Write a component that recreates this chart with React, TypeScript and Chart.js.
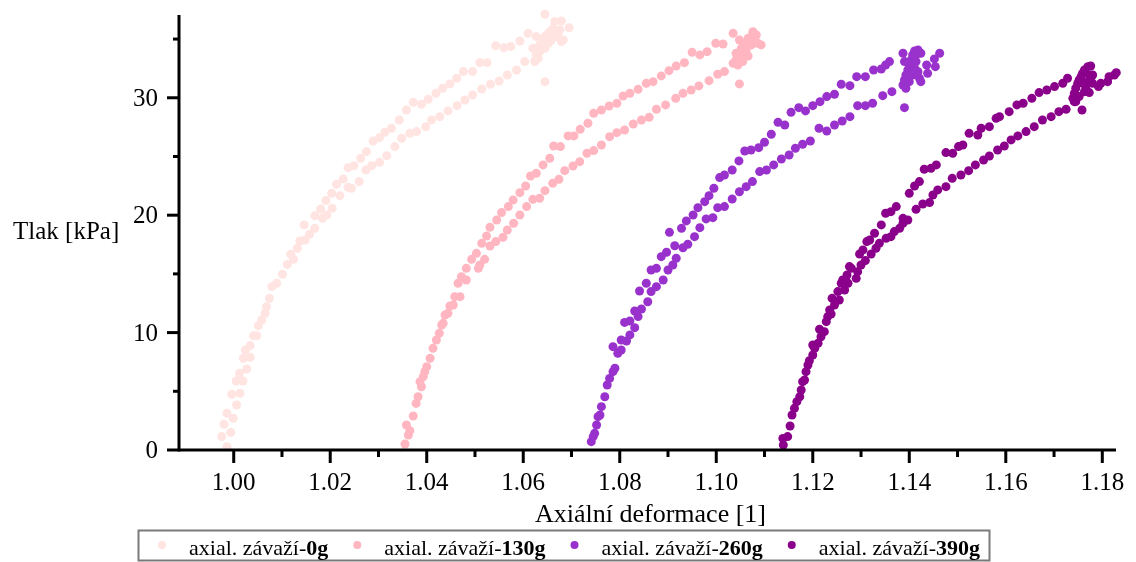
import React, { useEffect, useRef } from "react";
import { Chart, registerables } from "chart.js";

Chart.register(...registerables);

// ---------- data ----------
const seriesWeights = ["0g", "130g", "260g", "390g"];
const legendPrefix = "axial. závaží-";
const seriesColors = ["#FFE4E1", "#FFB6C1", "#9932CC", "#8B008B"];

const xTitle = "Axiální deformace [1]";
const yTitle = "Tlak [kPa]";

const xMajorTicks = [1.0, 1.02, 1.04, 1.06, 1.08, 1.1, 1.12, 1.14, 1.16, 1.18];
const xMinorTicks = [1.01, 1.03, 1.05, 1.07, 1.09, 1.11, 1.13, 1.15, 1.17];
const yMajorTicks = [0, 10, 20, 30];
const yMinorTicks = [5, 15, 25, 35];

const X_MIN = 0.98866;
const X_MAX = 1.18284;
const Y_MIN = 0;
const Y_MAX = 37.05;

const pts0g = [
  [0.9986, 0.28], [0.9975, 1.14], [0.998, 2.19], [0.9994, 1.5], [0.9986, 3.12], [0.9999, 2.7], [1.0006, 3.83], [0.9996, 4.74],
  [1.0013, 4.83], [1.0005, 5.88], [1.0019, 5.88], [1.0012, 6.53], [1.0027, 6.9], [1.002, 7.81], [1.0034, 7.89], [1.0024, 8.52],
  [1.0034, 8.89], [1.0041, 9.74], [1.0048, 9.74], [1.0051, 10.59], [1.0058, 11.07], [1.0065, 11.64], [1.0068, 12.21], [1.0074, 12.92],
  [1.0079, 13.91], [1.0089, 14.2], [1.0101, 14.97], [1.0111, 15.81], [1.0124, 16.24], [1.0118, 16.67], [1.0132, 17.18], [1.0137, 17.8],
  [1.0148, 17.89], [1.0157, 18.37], [1.0146, 19.17], [1.0168, 18.88], [1.0168, 19.96], [1.018, 20.53], [1.0184, 19.73], [1.0193, 20.02],
  [1.0191, 21.24], [1.0204, 20.58], [1.0203, 21.86], [1.0213, 22.63], [1.022, 21.66], [1.0227, 23.08], [1.0237, 22.37], [1.0244, 22.29],
  [1.026, 22.86], [1.0237, 24.05], [1.0249, 24.22], [1.0263, 24.84], [1.0274, 23.85], [1.0275, 25.41], [1.0289, 26.32], [1.0286, 24.22],
  [1.0302, 24.5], [1.0302, 26.6], [1.0313, 27.06], [1.0317, 25.07], [1.0327, 27.4], [1.0334, 25.84], [1.0343, 28.11], [1.0348, 26.55],
  [1.0358, 28.96], [1.0365, 26.97], [1.0372, 29.61], [1.0379, 27.12], [1.0389, 29.44], [1.0398, 27.54], [1.0403, 29.87], [1.041, 28.11],
  [1.0419, 30.38], [1.0427, 28.39], [1.0433, 30.81], [1.0444, 28.88], [1.0448, 31.18], [1.0463, 29.33], [1.0462, 31.66], [1.0479, 29.81],
  [1.0476, 32.23], [1.0495, 30.24], [1.0495, 32.23], [1.0514, 30.75], [1.051, 32.99], [1.0525, 32.99], [1.0532, 31.15], [1.0543, 34.44],
  [1.055, 31.43], [1.056, 34.27], [1.0567, 31.94], [1.0574, 34.36], [1.0586, 32.37], [1.0593, 34.84], [1.0603, 33.08], [1.061, 35.49],
  [1.0624, 33.13], [1.0645, 37.11], [1.0645, 31.37],
  [1.0627, 35.21], [1.0634, 34.5], [1.0641, 35.07], [1.0648, 35.35], [1.0655, 35.63], [1.0662, 35.92], [1.0665, 36.48], [1.0679, 36.54],
  [1.0672, 35.49], [1.0683, 34.92], [1.0695, 35.97], [1.0634, 33.93], [1.0627, 33.65], [1.0645, 34.21], [1.0652, 34.64], [1.0658, 34.92],
  [1.0669, 35.21], [1.0676, 35.78], [1.062, 34.21], [1.0631, 33.36], [1.0679, 34.78], [1.0624, 33.08],
];

const pts130g = [
  [1.0355, 0.51], [1.0362, 1.28], [1.0365, 1.65], [1.0358, 2.13], [1.0372, 2.9], [1.0378, 3.97], [1.0382, 4.54], [1.0389, 5.39],
  [1.0386, 5.82], [1.0393, 6.25], [1.0396, 6.67], [1.04, 7.1], [1.0407, 7.81], [1.0413, 8.66], [1.042, 9.37], [1.0426, 9.94],
  [1.0431, 10.65], [1.0434, 10.79], [1.0438, 11.5], [1.0444, 11.64], [1.0448, 12.27], [1.0455, 12.35], [1.0458, 13.06], [1.0469, 13.06],
  [1.0465, 14.2], [1.0472, 14.76], [1.0482, 14.48], [1.0482, 15.47], [1.0493, 16.24], [1.0507, 15.47], [1.0503, 16.75], [1.051, 15.76],
  [1.052, 16.24], [1.0514, 17.6], [1.0524, 18.23], [1.0531, 17.38], [1.0531, 18.97], [1.0543, 17.75], [1.0545, 19.59], [1.0558, 18.11],
  [1.0555, 20.22], [1.0567, 18.74], [1.0569, 20.73], [1.0579, 21.29], [1.058, 19.31], [1.0593, 21.92], [1.0593, 20.02], [1.0605, 22.49],
  [1.0607, 20.73], [1.0615, 23.34], [1.062, 21.35], [1.0627, 23.57], [1.0634, 21.44], [1.0641, 24.28], [1.0645, 22.09], [1.0655, 24.84],
  [1.0661, 22.71], [1.0663, 25.89], [1.0674, 23.06], [1.0677, 25.84], [1.0686, 23.79], [1.0693, 26.75], [1.0703, 24.19], [1.0705, 26.75],
  [1.0718, 27.31], [1.0717, 24.56], [1.0734, 27.83], [1.0732, 25.27], [1.0746, 28.68], [1.0746, 25.5], [1.0762, 28.96], [1.0762, 25.98],
  [1.0778, 29.3], [1.0779, 26.69], [1.0794, 29.53], [1.0794, 27.03], [1.0807, 30.15], [1.081, 27.26], [1.0821, 30.38], [1.0828, 27.77],
  [1.0838, 30.72], [1.0845, 28.11], [1.0855, 31.23], [1.0861, 28.34], [1.0869, 31.37], [1.0876, 29.02], [1.0886, 31.86], [1.0895, 29.39],
  [1.0902, 32.31], [1.0916, 29.95], [1.0917, 32.71], [1.0931, 30.38], [1.0934, 32.99], [1.0948, 30.66], [1.095, 33.87], [1.0964, 31.01],
  [1.0966, 33.65], [1.0985, 31.46], [1.0981, 33.93], [1.1003, 32.0], [1.0999, 34.64], [1.1017, 32.23], [1.1014, 34.58], [1.1035, 35.49],
  [1.1048, 31.18],
  [1.1035, 32.94], [1.1041, 33.22], [1.1048, 33.5], [1.1055, 33.79], [1.1062, 34.07], [1.1073, 34.5], [1.1079, 34.92], [1.1083, 35.35],
  [1.1076, 35.63], [1.1086, 34.64], [1.1093, 34.5], [1.1041, 33.79], [1.1052, 34.21], [1.1059, 34.64], [1.1066, 35.07], [1.1076, 35.49],
  [1.1045, 32.79], [1.1055, 33.08], [1.1066, 33.56], [1.1048, 34.92],
];

const pts260g = [
  [1.0741, 0.71], [1.0745, 1.14], [1.0748, 1.42], [1.0752, 2.13], [1.0755, 2.84], [1.0759, 2.98], [1.0762, 3.69], [1.0769, 4.54],
  [1.0774, 5.54], [1.0779, 6.1], [1.0786, 6.67], [1.079, 6.96], [1.0786, 8.8], [1.0796, 8.23], [1.0803, 8.52], [1.0803, 9.37],
  [1.0814, 9.28], [1.0821, 9.8], [1.081, 10.87], [1.0821, 10.99], [1.0831, 11.84], [1.0838, 11.36], [1.0831, 10.42], [1.0845, 12.01],
  [1.0841, 13.54], [1.0858, 12.63], [1.0855, 14.2], [1.0865, 13.49], [1.0876, 13.91], [1.0865, 15.33], [1.0876, 15.47], [1.0886, 16.47],
  [1.0897, 16.84], [1.089, 14.48], [1.09, 15.33], [1.091, 15.76], [1.0917, 16.33], [1.0914, 17.4], [1.0903, 18.54], [1.0931, 17.23],
  [1.0941, 17.52], [1.0928, 18.88], [1.0938, 19.51], [1.0952, 20.02], [1.0955, 18.17], [1.0966, 18.94], [1.0962, 20.64], [1.0976, 21.15],
  [1.0979, 19.68], [1.0993, 19.79], [1.0985, 21.66], [1.0995, 22.29], [1.1003, 20.64], [1.1007, 23.2], [1.1017, 20.73], [1.1017, 23.42],
  [1.1033, 21.38], [1.1033, 23.85], [1.1047, 24.62], [1.1048, 22.0], [1.1059, 25.47], [1.1062, 22.43], [1.1075, 22.86], [1.1072, 25.55],
  [1.1088, 25.75], [1.109, 23.71], [1.11, 26.21], [1.1104, 23.85], [1.1114, 26.89], [1.1119, 24.28], [1.1128, 27.91], [1.1135, 24.79],
  [1.1142, 27.68], [1.1151, 25.13], [1.1155, 28.76], [1.1164, 25.7], [1.1171, 29.16], [1.1179, 26.04], [1.1185, 28.88], [1.1195, 26.32],
  [1.12, 29.33], [1.1213, 27.4], [1.1215, 29.67], [1.1229, 27.17], [1.1229, 30.1], [1.1245, 27.68], [1.1245, 30.3], [1.1261, 28.02],
  [1.1259, 31.15], [1.1277, 28.39], [1.1277, 31.03], [1.1293, 29.33], [1.1291, 31.8], [1.1309, 29.33], [1.1309, 31.8], [1.1324, 29.53],
  [1.1326, 32.37], [1.1345, 30.18], [1.1342, 32.45], [1.1364, 30.52], [1.1351, 32.79], [1.1359, 33.08], [1.139, 29.16],
  [1.1387, 31.09], [1.139, 31.52], [1.1393, 31.94], [1.1397, 32.37], [1.14, 32.79], [1.1404, 33.22], [1.1407, 33.65], [1.1411, 33.99],
  [1.1418, 34.07], [1.1424, 33.79], [1.1414, 33.08], [1.1411, 32.51], [1.1407, 31.94], [1.14, 31.37], [1.1393, 30.81], [1.1418, 32.22],
  [1.1421, 31.66], [1.139, 33.08], [1.1387, 33.79], [1.1414, 33.65],
  [1.1436, 32.79], [1.1438, 32.08], [1.1454, 32.65], [1.1452, 33.31], [1.1463, 33.79], [1.1424, 31.37],
];

const pts390g = [
  [1.1139, 0.43], [1.1138, 0.99], [1.1148, 1.14], [1.1153, 2.04], [1.1157, 2.98], [1.1162, 3.55], [1.1167, 4.12], [1.1173, 4.54],
  [1.1176, 5.11], [1.1179, 5.82], [1.1183, 5.96], [1.1186, 6.67], [1.119, 7.24], [1.1193, 7.61], [1.12, 8.09], [1.1204, 8.66],
  [1.12, 8.94], [1.1211, 9.09], [1.1217, 9.65], [1.1214, 10.28], [1.1224, 10.08], [1.1228, 10.93], [1.1231, 11.36], [1.1238, 11.58],
  [1.1235, 11.92], [1.1245, 12.35], [1.124, 12.92], [1.1255, 12.78], [1.1252, 13.49], [1.1259, 14.2], [1.1266, 13.63], [1.1273, 14.2],
  [1.1262, 14.48], [1.1271, 14.91], [1.128, 15.47], [1.1276, 15.62], [1.129, 14.62], [1.1293, 15.19], [1.13, 15.76], [1.1297, 16.69],
  [1.1304, 17.04], [1.1309, 16.13], [1.1318, 17.89], [1.1312, 17.75], [1.1321, 16.69], [1.1328, 18.46], [1.1331, 17.18], [1.1338, 17.6],
  [1.1342, 19.17], [1.1351, 20.16], [1.1352, 18.03], [1.1362, 18.17], [1.1362, 20.3], [1.1373, 20.73], [1.1369, 18.6], [1.138, 18.88],
  [1.1387, 19.31], [1.1387, 19.73], [1.1397, 19.59], [1.14, 21.86], [1.1411, 22.49], [1.1421, 22.86], [1.1414, 20.5], [1.1428, 20.95],
  [1.1431, 23.91], [1.1442, 21.07], [1.1445, 23.99], [1.1456, 24.28], [1.1449, 21.72], [1.1459, 22.15], [1.1476, 25.33], [1.1476, 22.43],
  [1.1489, 23.14], [1.149, 25.27], [1.1502, 25.84], [1.1507, 23.42], [1.1511, 25.98], [1.1523, 23.79], [1.1524, 26.97], [1.1537, 24.28],
  [1.1542, 26.83], [1.1549, 27.4], [1.1554, 24.7], [1.1566, 27.54], [1.1566, 25.04], [1.158, 28.25], [1.1583, 25.55], [1.1587, 28.39],
  [1.1597, 25.89], [1.1607, 28.82], [1.1611, 26.41], [1.1623, 29.39], [1.1625, 26.75], [1.1636, 29.53], [1.1642, 27.12], [1.1654, 29.95],
  [1.1659, 27.54], [1.1669, 30.44], [1.1676, 28.11], [1.1685, 30.66], [1.1694, 28.39], [1.1701, 30.95], [1.171, 28.82], [1.1718, 31.23],
  [1.1725, 29.02], [1.1728, 31.66], [1.1742, 29.67], [1.1758, 28.96],
  [1.1739, 29.95], [1.1742, 30.38], [1.1745, 30.81], [1.1749, 31.23], [1.1752, 31.52], [1.1756, 31.8], [1.1759, 32.08], [1.1763, 32.37],
  [1.177, 32.65], [1.1776, 32.71], [1.1773, 31.94], [1.177, 31.37], [1.1766, 30.95], [1.1763, 30.52], [1.1752, 30.1], [1.1773, 30.44],
  [1.178, 31.23], [1.1759, 31.23], [1.1745, 29.67], [1.178, 31.94],
  [1.1792, 30.95], [1.1797, 31.23], [1.1811, 31.37], [1.1814, 31.8], [1.1825, 31.94], [1.1829, 32.14],
];

const seriesPoints = [pts0g, pts130g, pts260g, pts390g];

// ---------- styling ----------
const FONT = "'Liberation Serif', 'Times New Roman', serif";
const TICK_FONT = `25px ${FONT}`;
const YTITLE_FONT = `25px ${FONT}`;
const XTITLE_FONT = `26px ${FONT}`;
const LEG_FONT = `22px ${FONT}`;
const LEG_BOLD = `bold 22px ${FONT}`;

function drawText(ctx: any, s: string, x: number, y: number, align: string, font: string) {
  ctx.save();
  ctx.font = font;
  ctx.textAlign = align;
  ctx.textBaseline = "alphabetic";
  ctx.fillText(s, x, y);
  ctx.restore();
}

function textWidth(ctx: any, s: string, font: string) {
  ctx.save();
  ctx.font = font;
  const w = ctx.measureText(s).width;
  ctx.restore();
  return w;
}

const axesPlugin = {
  id: "customAxes",
  afterDraw(chart: any) {
    const ctx = chart.ctx;
    const xs = chart.scales.x;
    const ys = chart.scales.y;
    const { left, right, top, bottom } = chart.chartArea;
    ctx.save();
    ctx.strokeStyle = "#000";
    ctx.fillStyle = "#000";
    ctx.lineWidth = 3;
    ctx.lineCap = "butt";
    const line = (x1: number, y1: number, x2: number, y2: number) => {
      ctx.beginPath();
      ctx.moveTo(x1, y1);
      ctx.lineTo(x2, y2);
      ctx.stroke();
    };
    line(left, top, left, bottom + 1.5);
    line(left, bottom, right, bottom);
    yMajorTicks.forEach((v) => {
      const py = ys.getPixelForValue(v);
      line(left - 12, py, left, py);
    });
    yMinorTicks.forEach((v) => {
      const py = ys.getPixelForValue(v);
      line(left - 6, py, left, py);
    });
    xMajorTicks.forEach((v) => {
      const px = xs.getPixelForValue(v);
      line(px, bottom, px, bottom + 13);
    });
    xMinorTicks.forEach((v) => {
      const px = xs.getPixelForValue(v);
      line(px, bottom, px, bottom + 7);
    });
    xMajorTicks.forEach((v) => {
      drawText(ctx, v.toFixed(2), xs.getPixelForValue(v), bottom + 40, "center", TICK_FONT);
    });
    yMajorTicks.forEach((v) => {
      drawText(ctx, String(v), left - 21, ys.getPixelForValue(v) + 8, "right", TICK_FONT);
    });
    drawText(ctx, yTitle, 13, (top + bottom) / 2 + 6, "left", YTITLE_FONT);
    drawText(ctx, xTitle, (left + right) / 2 + 3, bottom + 72, "center", XTITLE_FONT);

    // legend
    const boxL = 138.5, boxT = 530.5, boxR = 989.5, boxB = 560.5;
    ctx.strokeStyle = "#7a7a7a";
    ctx.lineWidth = 2;
    ctx.strokeRect(boxL, boxT, boxR - boxL, boxB - boxT);
    let mx = 162;
    seriesWeights.forEach((w, i) => {
      ctx.fillStyle = seriesColors[i];
      ctx.beginPath();
      ctx.arc(mx, 545, 4, 0, Math.PI * 2);
      ctx.fill();
      ctx.fillStyle = "#000";
      const tx = mx + 27;
      drawText(ctx, legendPrefix, tx, 555, "left", LEG_FONT);
      const w1 = textWidth(ctx, legendPrefix, LEG_FONT);
      drawText(ctx, w, tx + w1, 555, "left", LEG_BOLD);
      const w2 = textWidth(ctx, w, LEG_BOLD);
      mx = tx + w1 + w2 + 29;
    });
    ctx.restore();
  },
};

export default function App() {
  const ref = useRef<HTMLCanvasElement | null>(null);
  useEffect(() => {
    if (!ref.current) return;
    const chart = new Chart(ref.current, {
      type: "scatter",
      data: {
        datasets: seriesWeights.map((w, i) => ({
          label: legendPrefix + w,
          data: seriesPoints[i].map(([x, y]) => ({ x, y })),
          backgroundColor: seriesColors[i],
          borderWidth: 0,
          pointRadius: 4.5,
          pointHoverRadius: 4.5,
          clip: false,
        })),
      },
      options: {
        responsive: false,
        animation: false,
        devicePixelRatio: 1,
        events: [],
        layout: { padding: { left: 179, top: 15, right: 20, bottom: 112 } },
        plugins: { legend: { display: false }, tooltip: { enabled: false } },
        scales: {
          x: { type: "linear", min: X_MIN, max: X_MAX, display: false },
          y: { type: "linear", min: Y_MIN, max: Y_MAX, display: false },
        },
      },
      plugins: [axesPlugin],
    } as any);
    return () => chart.destroy();
  }, []);
  return (
    <div style={{ position: "fixed", left: 0, top: 0, width: 1136, height: 562, background: "#fff" }}>
      <canvas ref={ref} width={1136} height={562} style={{ display: "block" }} />
    </div>
  );
}
